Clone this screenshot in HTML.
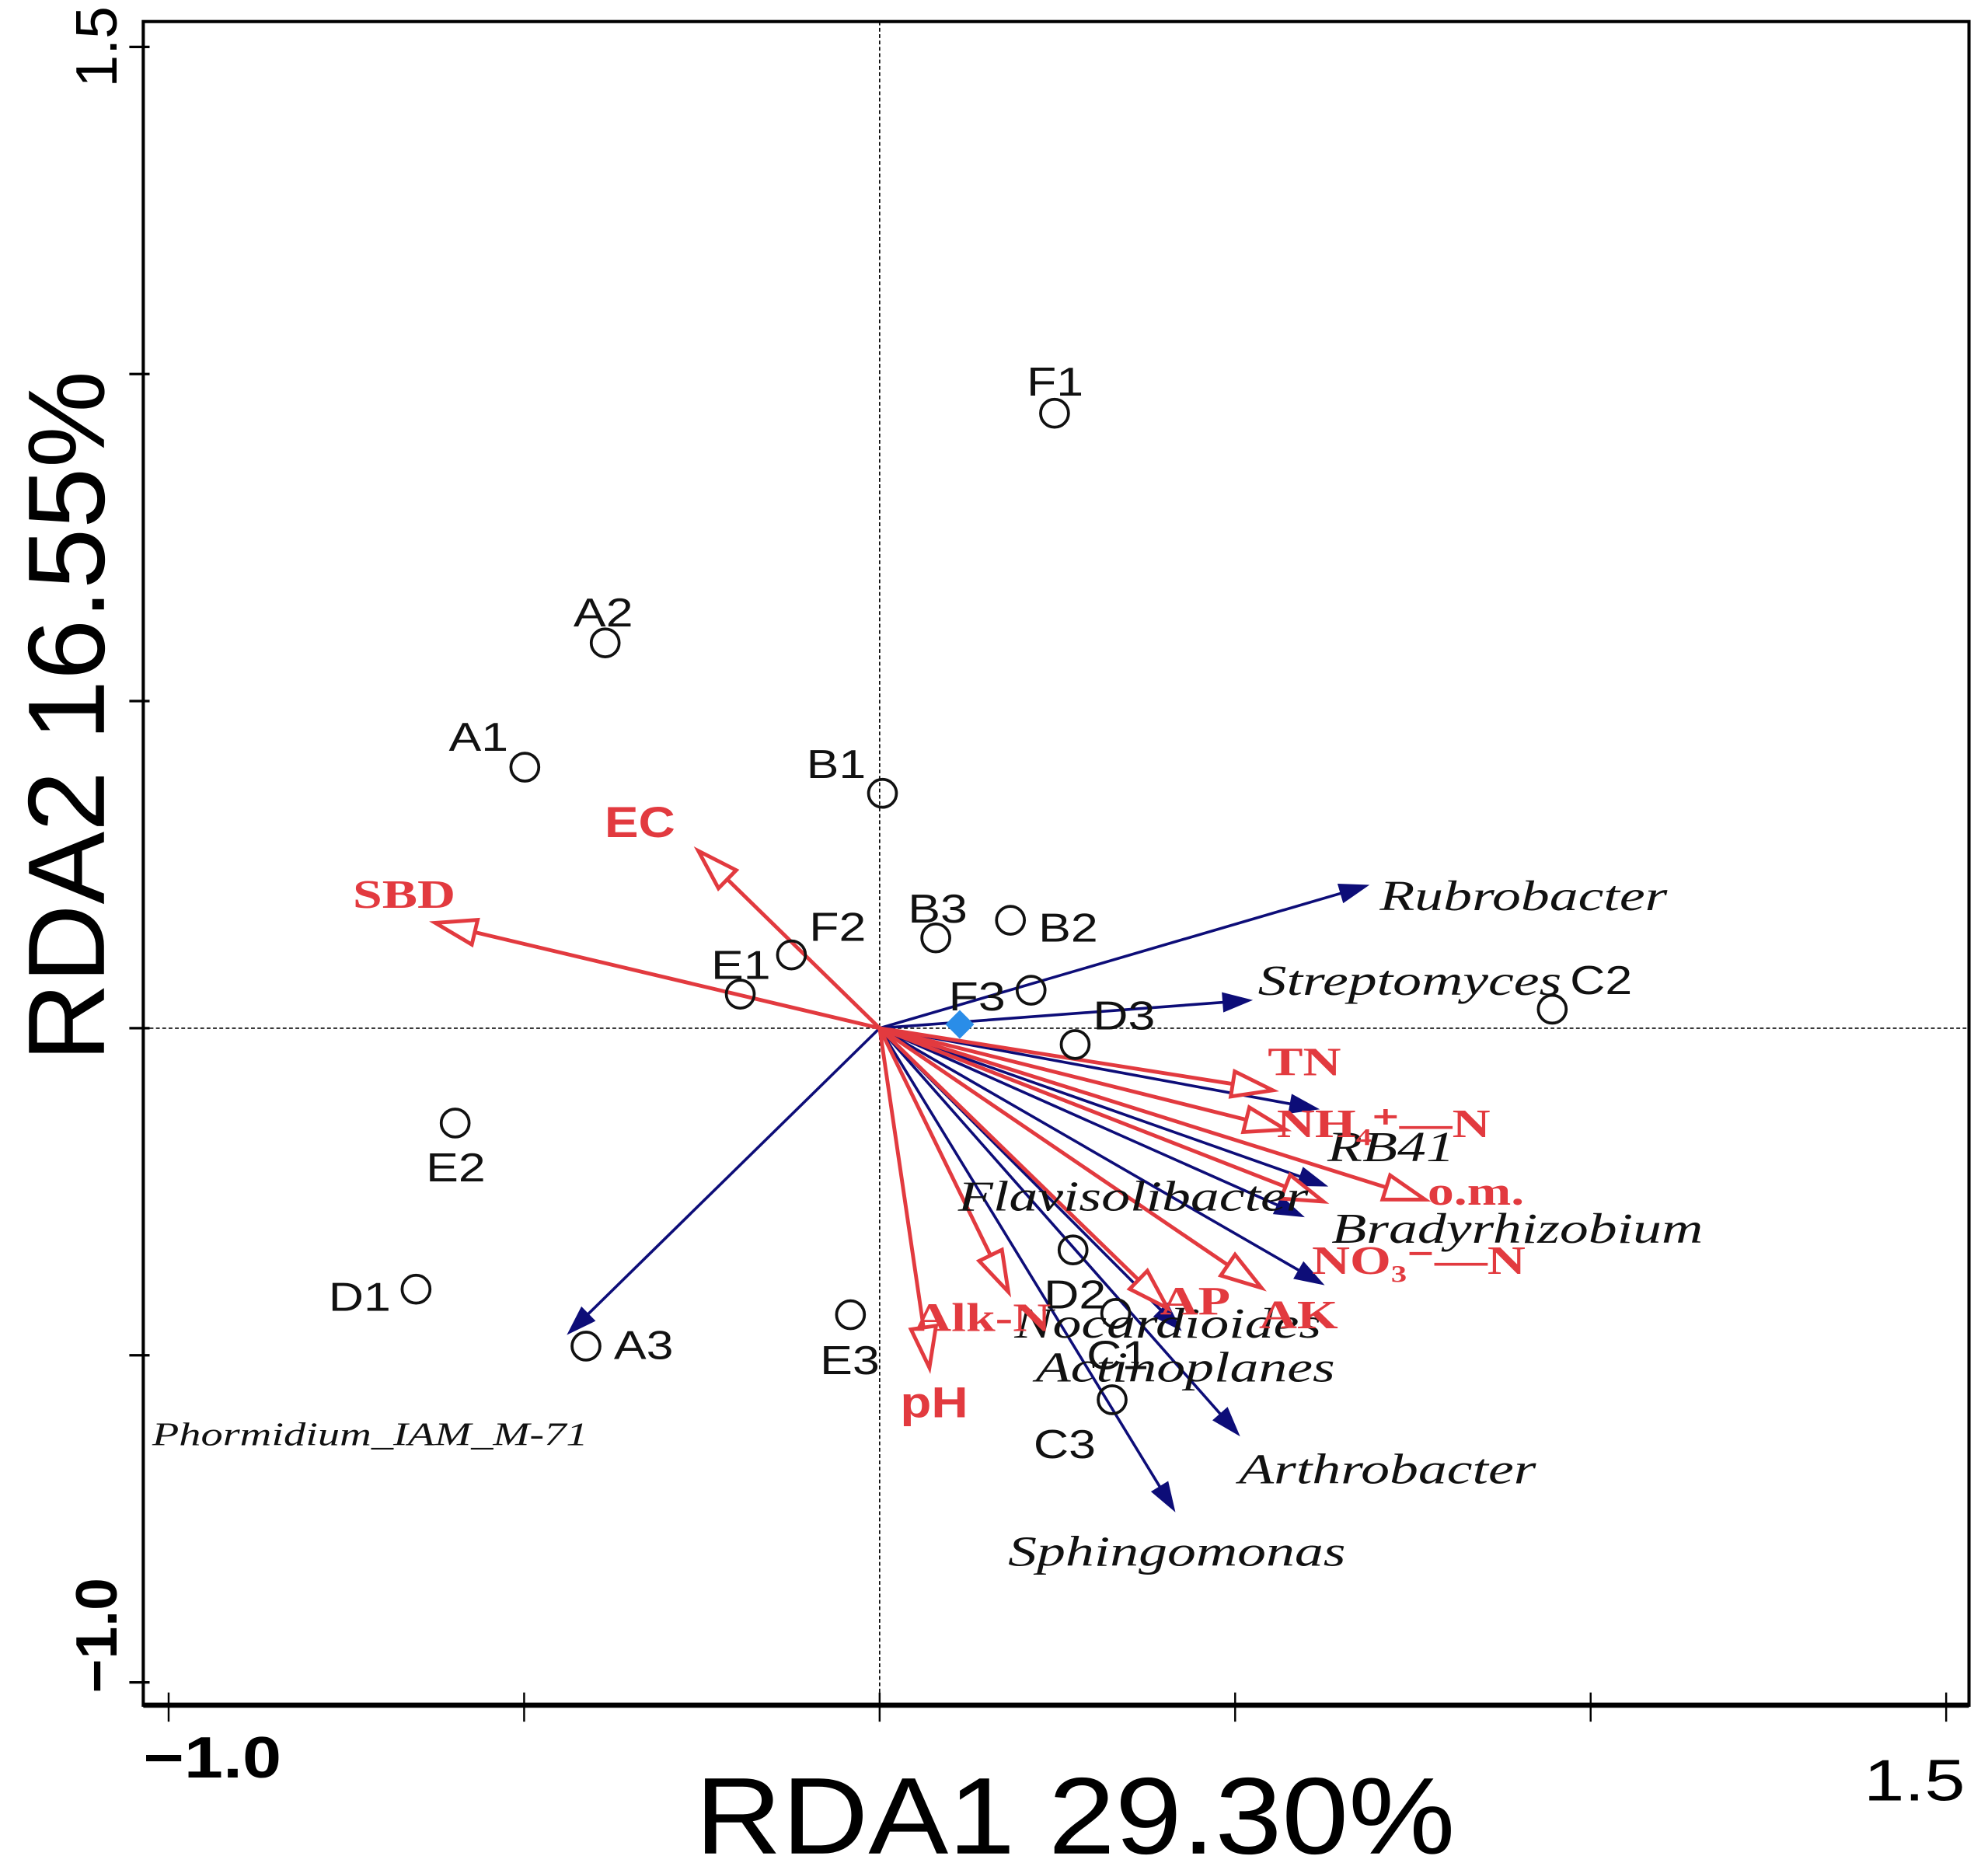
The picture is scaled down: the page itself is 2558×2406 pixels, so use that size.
<!DOCTYPE html>
<html><head><meta charset="utf-8"><style>
html,body{margin:0;padding:0;background:#fff}
svg{display:block}
</style></head><body>
<svg id="chart" width="2558" height="2406" viewBox="0 0 1568 1475" preserveAspectRatio="none" xmlns="http://www.w3.org/2000/svg">
<rect x="0" y="0" width="1568" height="1475" fill="#fff"/>
<rect x="113" y="17" width="1440" height="1328" fill="none" stroke="#000" stroke-width="2.5"/>
<line x1="113" y1="1345" x2="1553" y2="1345" stroke="#000" stroke-width="4"/>
<g id="ticks"></g>
<line x1="693.8" y1="17" x2="693.8" y2="1345" stroke="#000" stroke-width="1" stroke-dasharray="3,2"/>
<line x1="113" y1="811" x2="1553" y2="811" stroke="#000" stroke-width="1" stroke-dasharray="3,2"/>
<g id="arrows"></g>
<g id="sites"></g>
<g id="labels"></g>
<text transform="translate(113,1402) scale(1.2,1)" font-family="Liberation Sans, sans-serif" font-weight="bold" font-size="46">−1.0</text>
<text transform="translate(1470,1420) scale(1.25,1)" font-family="Liberation Sans, sans-serif" font-size="46">1.5</text>
<text transform="translate(92,37) rotate(-90)" text-anchor="middle" font-family="Liberation Sans, sans-serif" font-size="46">1.5</text>
<text transform="translate(92,1290) rotate(-90)" text-anchor="middle" font-family="Liberation Sans, sans-serif" font-weight="bold" font-size="46">−1.0</text>
<text transform="translate(848,1462) scale(1.1,1)" text-anchor="middle" font-family="Liberation Sans, sans-serif" font-size="86">RDA1 29.30%</text>
<text transform="translate(82,565) rotate(-90)" text-anchor="middle" font-family="Liberation Sans, sans-serif" font-size="86">RDA2 16.55%</text>
<rect x="749" y="800" width="16" height="16" fill="#2a8de8" transform="rotate(45 757 808)"/>
</svg>
<script>
// ---- data ----
const siteNames = ["F1","A2","A1","B1","B3","B2","F2","E1","F3","D3","C2","E2","D1","A3","E3","D2","C1","C3"];
const siteX = [0.246,-0.386,-0.499,0.004,0.079,0.184,-0.124,-0.196,0.213,0.275,0.946,-0.597,-0.652,-0.413,-0.041,0.272,0.332,0.327];
const siteY = [0.94,0.589,0.399,0.359,0.138,0.165,0.112,0.052,0.058,-0.025,0.029,-0.145,-0.399,-0.486,-0.438,-0.339,-0.436,-0.568];
const envNames = ["EC","SBD","TN","NH₄⁺—N","o.m.","NO₃⁻—N","AK","AP","Alk-N","pH"];
const envX = [-0.255,-0.625,0.553,0.571,0.767,0.624,0.537,0.405,0.181,0.070];
const envY = [0.271,0.161,-0.095,-0.155,-0.262,-0.265,-0.397,-0.428,-0.403,-0.519];
const spNames = ["Rubrobacter","Streptomyces","RB41","Flavisolibacter","Bradyrhizobium","Actinoplanes","Nocardioides","Arthrobacter","Sphingomonas","Phormidium_IAM_M-71"];
const spX = [0.689,0.525,0.619,0.631,0.598,0.626,0.425,0.507,0.416,-0.440];
const spY = [0.219,0.043,-0.124,-0.242,-0.289,-0.393,-0.463,-0.624,-0.740,-0.469];
const xTicks = [-1.0,-0.5,0,0.5,1.0,1.5];
const yTicks = [1.5,1.0,0.5,0,-0.5,-1.0];

// ---- layout (not data) ----
const siteLabelOff = [[-22,-14],[-25,-13],[-60,-13],[-60,-12],[-22,-12],[22,17],[14,-11],[-23,-12],[-65,16],[14,-12],[14,-12],[-23,46],[-69,17],[22,10],[-24,47],[-23,46],[-23,44],[-62,46]];
const envLabelOff = [[-74,-11],[-65,-12],[-4,-12],[-7,6],[2,4],[-9,57],[-2,32],[-6,5],[-75,31],[-23,39]];
const envLabelFont = ["sans","serif","serif","serif","serif","serif","serif","serif","serif","sans"];
const spLabelOff = [[8,20],[4,-4],[6,41],[-292,19],[21,20],[-228,76],[-132,5],[-1,37],[-132,42],[-327,87]];

const NS = "http://www.w3.org/2000/svg";
const X0 = 693.8, XU = 560.8, Y0 = 811, YU = 516;
function sx(v){ return X0 + v*XU; }
function sy(v){ return Y0 - v*YU; }
function mk(tag, attrs, parent){
  const e = document.createElementNS(NS, tag);
  for (const k in attrs) e.setAttribute(k, attrs[k]);
  parent.appendChild(e);
  return e;
}
const ticks = document.getElementById('ticks');
xTicks.forEach(t => {
  const l = mk('line', {x1:sx(t), x2:sx(t), y1:1335, y2:1358, stroke:'#000','stroke-width':1.5}, ticks);
  
  
});
yTicks.forEach(t => {
  const l = mk('line', {x1:102, x2:118, y1:sy(t), y2:sy(t), stroke:'#000','stroke-width':2}, ticks);
  
  
});

const arrows = document.getElementById('arrows');
const labels = document.getElementById('labels');
function head(x, y, ang, len, hw){
  const bx = x - len*Math.cos(ang), by = y - len*Math.sin(ang);
  const px = -Math.sin(ang)*hw, py = Math.cos(ang)*hw;
  return `${x},${y} ${bx+px},${by+py} ${bx-px},${by-py}`;
}
// species (blue)
spNames.forEach((n,i) => {
  const x = sx(spX[i]), y = sy(spY[i]);
  const ang = Math.atan2(y - Y0, x - X0);
  const l = mk('line', {x1:X0, y1:Y0, x2:x - 18*Math.cos(ang), y2:y - 18*Math.sin(ang), stroke:'#0d0d78','stroke-width':2.2}, arrows);
  
  
  const h = mk('polygon', {points:head(x,y,ang,24,8), fill:'#0d0d78'}, arrows);
  
  
  const isPh = i === spNames.length-1;
  const tx = x+spLabelOff[i][0], ty = y+spLabelOff[i][1];
  const t = mk('text', {transform:`translate(${tx},${ty}) scale(${isPh?1.33:1.33},1)`, 'font-family':'Liberation Serif, serif', 'font-style':'italic', 'font-size': isPh ? 26 : 34, fill:'#111'}, labels);
  t.textContent = n;
  
  
});
// env (red)
envNames.forEach((n,i) => {
  const x = sx(envX[i]), y = sy(envY[i]);
  const ang = Math.atan2(y - Y0, x - X0);
  const l = mk('line', {x1:X0, y1:Y0, x2:x - 30*Math.cos(ang), y2:y - 30*Math.sin(ang), stroke:'#e23a3f','stroke-width':3}, arrows);
  
  
  const h = mk('polygon', {points:head(x,y,ang,32,10), fill:'#fff', stroke:'#e23a3f','stroke-width':3}, arrows);
  
  
  const sans = envLabelFont[i] === 'sans';
  const tx = x+envLabelOff[i][0], ty = y+envLabelOff[i][1];
  const t = mk('text', {transform:`translate(${tx},${ty}) scale(${sans?1.18:1.3},1)`, 'font-family': sans ? 'Liberation Sans, sans-serif' : 'Liberation Serif, serif', 'font-weight':'bold', 'font-size': sans ? 34 : 32, fill:'#e23a3f'}, labels);
  t.textContent = n;
  
  
});
// sites
const sites = document.getElementById('sites');
siteNames.forEach((n,i) => {
  const x = sx(siteX[i]), y = sy(siteY[i]);
  const c = mk('circle', {cx:x, cy:y, r:11, fill:'none', stroke:'#111','stroke-width':2.3}, sites);
  
  
  const tx = x+siteLabelOff[i][0], ty = y+siteLabelOff[i][1];
  const t = mk('text', {transform:`translate(${tx},${ty}) scale(1.2,1)`, 'font-family':'Liberation Sans, sans-serif', 'font-size':32, fill:'#111'}, sites);
  t.textContent = n;
  
  
});
</script>
</body></html>
